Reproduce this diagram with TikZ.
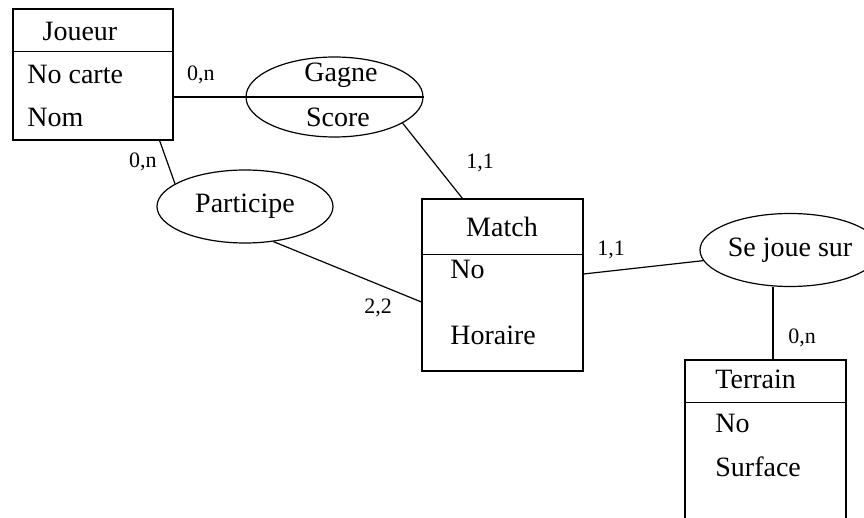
\documentclass[tikz,border=0pt]{standalone}
\usepackage{fontspec}
\setmainfont{Liberation Serif}
\usetikzlibrary{shapes.geometric,calc}

\begin{document}
\begin{tikzpicture}[x=0.5pt,y=-0.5pt,
    entite/.style={draw,rectangle,line width=0.6pt,inner sep=0pt},
    assoc/.style={draw,ellipse,line width=0.6pt,inner sep=0pt,font=\fontsize{14}{16}\selectfont},
    texte/.style={font=\fontsize{14}{16}\selectfont,inner sep=0pt},
    card/.style={font=\fontsize{11}{12}\selectfont,inner sep=0pt},
    lien/.style={line width=0.6pt}]
        \useasboundingbox (0,0) rectangle (864,518);
        \clip (0,0) rectangle (864,518);
        % Entites
        \node[entite,minimum width=80pt,minimum height=65.5pt] (joueur) at (93,74.5) {};
        \draw[lien] ($(joueur.north west)+(0,43)$) -- ($(joueur.north east)+(0,43)$);
        \node[texte] (joueurT) at (80,31) {Joueur};
        \node[texte,anchor=west] (joueurA) at (27,74) {No carte};
        \node[texte,anchor=west] (joueurB) at (27,117) {Nom};

        \node[entite,minimum width=80.5pt,minimum height=86pt] (match) at (502.5,285) {};
        \draw[lien] ($(match.north west)+(0,56)$) -- ($(match.north east)+(0,56)$);
        \node[texte] (matchT) at (502,227) {Match};
        \node[texte,anchor=west] (matchA) at (450,269) {No};
        \node[texte,anchor=west] (matchB) at (450,335) {Horaire};

        \node[entite,minimum width=80.5pt,minimum height=100pt] (terrain) at (765.5,460) {};
        \draw[lien] ($(terrain.north west)+(0,43)$) -- ($(terrain.north east)+(0,43)$);
        \node[texte,anchor=west] (terrainT) at (715,379) {Terrain};
        \node[texte,anchor=west] (terrainA) at (715,423) {No};
        \node[texte,anchor=west] (terrainB) at (715,467) {Surface};

        % Associations
        \node[assoc,minimum width=88.5pt,minimum height=40pt] (gagne) at (334.5,97) {};
        \node[texte] (gagneT) at (341,75) {Gagne};
        \node[texte] (gagneA) at (338,117) {Score};
        \node[assoc,minimum width=88pt,minimum height=36.5pt] (participe) at (245,206.5) {Participe};
        \node[assoc,minimum width=90pt,minimum height=36.5pt] (sejoue) at (790,250) {Se joue sur};

        % Liens
        \draw[lien] (joueur.east |- gagne.center) -- (gagne.east);
        \draw[lien] (gagne.-21) -- ($(match.north west)+(41,0)$);
        \draw[lien] ($(joueur.south east)+(-14,0)$) -- (participe.162);
        \draw[lien] (participe.-51) -- ($(match.west)+(0,17)$);
        \draw[lien] ($(match.east)+(0,-11)$) -- (sejoue.187);
        \coordinate (terrainH) at ($(terrain.north)+(7.5,0)$);
        \draw[lien] (sejoue.south -| terrainH) -- (terrainH);

        % Cardinalites
        \node[card] (c1) at (201,75) {0,n};
        \node[card] (c2) at (143,162) {0,n};
        \node[card] (c3) at (480,163) {1,1};
        \node[card] (c4) at (378,308) {2,2};
        \node[card] (c5) at (611,250) {1,1};
        \node[card] (c6) at (802,338) {0,n};
    \end{tikzpicture}
\end{document}
